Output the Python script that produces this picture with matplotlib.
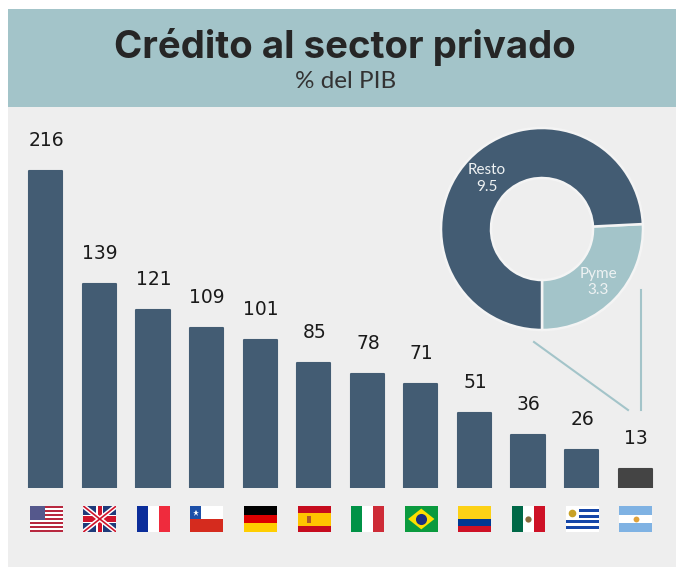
import numpy as np
import matplotlib
matplotlib.use("Agg")
import matplotlib.pyplot as plt
from matplotlib.patches import Rectangle, Polygon

countries = ["EEUU", "Reino Unido", "Francia", "Chile", "Alemania", "España",
             "Italia", "Brasil", "Colombia", "México", "Uruguay", "Argentina"]
values = [216, 139, 121, 109, 101, 85, 78, 71, 51, 36, 26, 13]
labels = ["216", "139", "121", "109", "101", "85", "78", "71", "51", "36", "26", "13"]
donut_names = ["Pyme", "Resto"]
donut_values = [3.3, 9.5]

W, H = 676, 567
BLUE = "#435c73"
TEAL = "#a3c4c9"
PANEL = "#eeeeee"
DARK = "#444444"

fig = plt.figure(figsize=(W / 100, H / 100), dpi=100, facecolor="white")


def px_axes(x0, y0, x1, y1):
    return fig.add_axes([x0 / W, 1 - y1 / H, (x1 - x0) / W, (y1 - y0) / H])


def overlay(z):
    a = px_axes(0, 0, W, H)
    a.patch.set_alpha(0)
    a.set_xlim(0, W)
    a.set_ylim(H, 0)
    a.axis("off")
    a.set_zorder(z)
    return a


# page layer
bg = overlay(0)
bg.add_patch(Rectangle((8, 107), W - 8, H - 107, fc=PANEL, ec="none"))
bg.add_patch(Rectangle((8, 8.5), W - 8, 98.5, fc=TEAL, ec="none"))
bg.text(345, 47, "Crédito al sector privado", ha="center", va="center",
        fontsize=27.6, fontweight="bold", family="Inter", color="#262626")
bg.text(345.5, 82, "% del PIB", ha="center", va="center",
        fontsize=17.5, family="Lato", color="#333333")

# bars
ax = px_axes(19, 129, 662, 488)
ax.set_zorder(1)
ax.patch.set_alpha(0)
ax.set_xlim(-0.5, 11.5)
ax.set_ylim(0, 359 / 1.4676)
ax.axis("off")
x = np.arange(len(values))
colors = [BLUE] * (len(values) - 1) + [DARK]
bars = ax.bar(x, values, width=0.62, color=colors, edgecolor=colors, linewidth=1.5)
for b in bars:
    b.set_joinstyle("round")
for xi, v, lab in zip(x, values, labels):
    ax.annotate(lab, (xi, v), xytext=(0.5, 18), textcoords="offset points",
                ha="center", va="baseline", fontsize=13.5, color="#1a1a1a",
                family="DejaVu Sans")

# flags
fx = px_axes(19, 500, 662, 540)
fx.set_zorder(1)
fx.patch.set_alpha(0)
fx.set_xlim(-0.5, 11.5)
fx.set_ylim(40, 0)
fx.axis("off")


def box(i):
    return i - 0.30, 6, 0.615, 26


def hstripes(i, cols, weights=None):
    x0, y0, w, h = box(i)
    weights = weights or [1] * len(cols)
    t = sum(weights)
    y = y0
    for c, wt in zip(cols, weights):
        fx.add_patch(Rectangle((x0, y), w, h * wt / t, fc=c, ec="none"))
        y += h * wt / t


def vstripes(i, cols):
    x0, y0, w, h = box(i)
    for k, c in enumerate(cols):
        fx.add_patch(Rectangle((x0 + k * w / 3, y0), w / 3, h, fc=c, ec="none"))


# USA
hstripes(0, ["#b8283f", "#ffffff"] * 6 + ["#b8283f"])
x0, y0, w, h = box(0)
fx.add_patch(Rectangle((x0, y0), w * 0.45, h * 7 / 13, fc="#55588c", ec="none"))

# UK
x0, y0, w, h = box(1)
uk = fx.add_patch(Rectangle((x0, y0), w, h, fc="#1f3a7a", ec="none"))
for ys, lw, c in [((y0, y0 + h), 3.4, "white"), ((y0 + h, y0), 3.4, "white"),
                  ((y0, y0 + h), 1.2, "#cf142b"), ((y0 + h, y0), 1.2, "#cf142b")]:
    ln, = fx.plot([x0, x0 + w], ys, color=c, lw=lw, solid_capstyle="butt")
    ln.set_clip_path(uk)
fx.add_patch(Rectangle((x0, y0 + h * 0.33), w, h * 0.34, fc="white", ec="none"))
fx.add_patch(Rectangle((x0 + w * 0.39, y0), w * 0.22, h, fc="white", ec="none"))
fx.add_patch(Rectangle((x0, y0 + h * 0.4), w, h * 0.2, fc="#cf142b", ec="none"))
fx.add_patch(Rectangle((x0 + w * 0.44, y0), w * 0.12, h, fc="#cf142b", ec="none"))

# France
vstripes(2, ["#0b2d9a", "#ffffff", "#ef2b3d"])

# Chile
hstripes(3, ["#ffffff", "#d52b1e"])
x0, y0, w, h = box(3)
fx.add_patch(Rectangle((x0, y0), w / 3, h / 2, fc="#1c4fa8", ec="none"))
fx.plot([x0 + w / 6], [y0 + h / 4], marker="*", ms=4.5, color="white", mew=0)

# Germany
hstripes(4, ["#000000", "#dd0000", "#ffce00"])

# Spain
hstripes(5, ["#c60b1e", "#ffc400", "#c60b1e"], [1, 2, 1])
x0, y0, w, h = box(5)
fx.add_patch(Rectangle((x0 + w * 0.27, y0 + h * 0.38), w * 0.14, h * 0.26, fc="#ad5a2a", ec="none"))

# Italy
vstripes(6, ["#009246", "#ffffff", "#ce2b37"])

# Brazil
x0, y0, w, h = box(7)
fx.add_patch(Rectangle((x0, y0), w, h, fc="#0a9a3e", ec="none"))
fx.add_patch(Polygon([(x0 + w * 0.1, y0 + h / 2), (x0 + w / 2, y0 + h * 0.1),
                      (x0 + w * 0.9, y0 + h / 2), (x0 + w / 2, y0 + h * 0.9)],
                     fc="#fedf00", ec="none"))
fx.plot([x0 + w / 2], [y0 + h / 2], "o", ms=8, color="#1c2f7f", mew=0)

# Colombia
hstripes(8, ["#fcd116", "#003893", "#ce1126"], [2, 1, 1])

# Mexico
vstripes(9, ["#006847", "#ffffff", "#ce1126"])
x0, y0, w, h = box(9)
fx.plot([x0 + w / 2], [y0 + h / 2], "o", ms=4.5, color="#8a6a3a", mew=0)

# Uruguay
x0, y0, w, h = box(10)
hstripes(10, ["#ffffff", "#1546a8"] * 4 + ["#ffffff"])
fx.add_patch(Rectangle((x0, y0), w * 0.42, h * 5 / 9, fc="white", ec="none"))
fx.plot([x0 + w * 0.2], [y0 + h * 0.28], "o", ms=5.5, color="#c9a227", mew=0)

# Argentina
hstripes(11, ["#7fb2e3", "#ffffff", "#7fb2e3"])
x0, y0, w, h = box(11)
fx.plot([x0 + w / 2], [y0 + h / 2], "o", ms=4.2, color="#e0a23a", mew=0)

# connector lines
lx = overlay(2)
lx.plot([534, 628], [342, 410], color=TEAL, lw=1.5)
lx.plot([641, 641], [290, 410], color=TEAL, lw=1.5)

# donut
R = 103
cx, cy = 542, 229
dx = px_axes(cx - R, cy - R, cx + R, cy + R)
dx.set_zorder(3)
dx.patch.set_alpha(0)
dx.pie(donut_values, colors=[TEAL, BLUE], startangle=270, counterclock=True,
       radius=101 / R, wedgeprops=dict(width=50 / R, edgecolor="#f4f4f4", linewidth=1.8))
dx.set_xlim(-1, 1)
dx.set_ylim(-1, 1)

tx = overlay(4)
for name, val, px, py in zip(donut_names, donut_values, [598, 487], [282, 178.5]):
    tx.text(px, py, f"{name}\n{val}", ha="center", va="center", fontsize=11,
            color="#eef2f3", family="Lato", linespacing=1.2)

fig.savefig("out.png", dpi=100, facecolor="white")
